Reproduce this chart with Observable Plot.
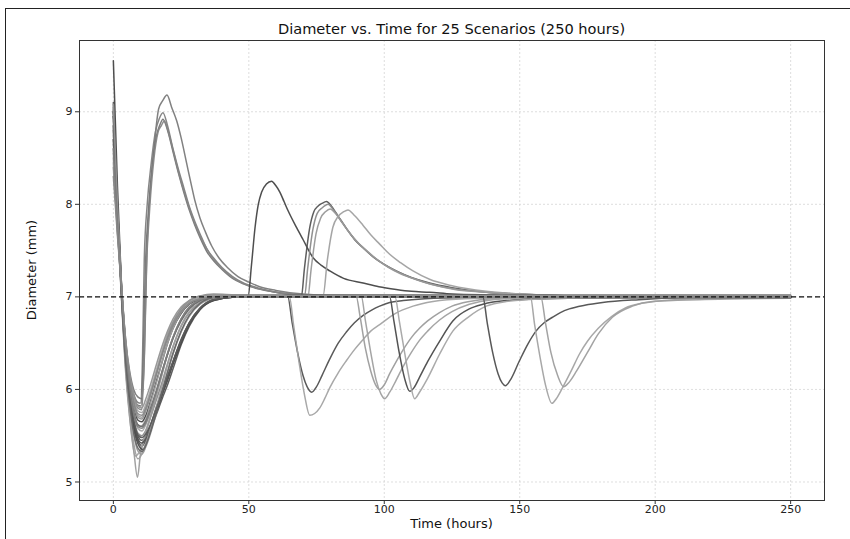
<!DOCTYPE html>
<html><head><meta charset="utf-8">
<script src="https://cdn.jsdelivr.net/npm/d3@7"></script>
<script src="https://cdn.jsdelivr.net/npm/@observablehq/plot@0.6"></script>
<style>
body{margin:0;background:#fff;font-family:"DejaVu Sans",sans-serif;}
#wrap{position:relative;width:850px;height:539px;overflow:hidden;background:#fff;}
#border{position:absolute;left:5px;top:8px;width:900px;height:700px;border-top:1.5px solid #222;border-left:1.5px solid #222;}
#chart{position:absolute;left:0;top:0;}
#title{position:absolute;top:20px;left:79px;width:745px;text-align:center;font-size:14.6px;color:#111;}
#xlab{position:absolute;top:516px;left:79px;width:745px;text-align:center;font-size:13px;color:#111;}
#ylab{position:absolute;left:31px;top:270px;font-size:13px;color:#111;transform:translate(-50%,-50%) rotate(-90deg);white-space:nowrap;}
</style></head><body>
<div id="wrap"><div id="chart"></div><div id="border"></div>
<div id="title">Diameter vs. Time for 25 Scenarios (250 hours)</div>
<div id="xlab">Time (hours)</div>
<div id="ylab">Diameter (mm)</div></div>
<script>
// ---- data: [time (h), diameter (mm)] ----
const S1 = [[0,8.95],[1.5,7.93],[3,7.14],[4.5,6.55],[6,6.2],[7.5,6.0],[9,5.92],[10.5,5.9],[11.5,6.4],[12.4,7.5],[13.5,8.1],[15,8.6],[16.7,9.03],[18.2,9.12],[19.8,9.18],[21.5,9.05],[23.4,8.9],[25,8.72],[27,8.45],[29,8.18],[30,8.05],[32,7.85],[34,7.7],[36.3,7.55],[39,7.42],[42,7.32],[46,7.22],[50,7.16],[54,7.11],[60,7.07],[70,7.03],[85,7.01],[250,7.01]];
const S2 = [[0,9.05],[1.5,8.0],[3,7.12],[4.5,6.5],[6,6.15],[7.5,5.95],[9,5.86],[10,5.85],[10.8,6.4],[11.4,7.4],[12.5,8.0],[14,8.45],[15.5,8.78],[17,8.93],[18.3,8.99],[20,8.85],[22,8.6],[24,8.38],[26,8.18],[28,7.98],[30,7.82],[32,7.68],[34.5,7.52],[37,7.42],[40,7.32],[44,7.22],[48,7.15],[53,7.1],[60,7.05],[70,7.02],[85,7.01],[250,7.0]];
const S3 = [[0,8.85],[1.5,7.9],[3,7.1],[4.5,6.5],[6,6.13],[7.5,5.93],[9,5.83],[10.2,5.82],[11,6.3],[11.8,7.3],[13,7.95],[14.5,8.45],[16,8.75],[17.2,8.86],[18.3,8.92],[20,8.8],[22,8.57],[24,8.34],[26,8.13],[28,7.94],[30,7.78],[32,7.64],[34.5,7.49],[37,7.39],[40,7.3],[44,7.2],[48,7.14],[53,7.09],[60,7.05],[70,7.02],[85,7.0],[250,7.0]];
const S4 = [[0,8.7],[1.5,7.84],[3,7.09],[4.5,6.48],[6,6.1],[7.5,5.9],[9,5.8],[10.5,5.78],[11.3,6.25],[12.2,7.3],[13.4,7.95],[15,8.5],[16.5,8.78],[17.7,8.85],[18.8,8.9],[20.5,8.76],[22.5,8.53],[24.5,8.3],[26.5,8.1],[28.5,7.92],[30.5,7.76],[33,7.6],[35.5,7.47],[38,7.37],[41,7.28],[45,7.19],[50,7.12],[55,7.08],[62,7.04],[72,7.02],[250,7.0]];
const S5 = [[0,9.55],[1.5,8.2],[3,7.12],[4.5,6.5],[6,6.1],[7.5,5.82],[9,5.67],[10.5,5.65],[12,5.72],[14,5.9],[16,6.1],[18,6.3],[20,6.5],[22,6.66],[25,6.82],[28,6.92],[32,6.97],[37,6.99],[45,7.0],[49.7,7.0],[51,7.35],[52.3,7.75],[53.5,8.0],[54.7,8.13],[56.5,8.22],[58.4,8.25],[60,8.2],[61.5,8.13],[63,8.03],[64.5,7.93],[67.6,7.75],[70,7.62],[73.8,7.42],[76.8,7.34],[79.9,7.28],[85,7.2],[92.2,7.15],[98,7.11],[104.4,7.08],[110,7.06],[116.7,7.05],[125,7.03],[140,7.02],[160,7.01],[250,7.01]];
const S6 = [[0,9.0],[1.5,7.95],[3,7.05],[4.5,6.35],[6,5.92],[7.5,5.62],[9,5.45],[10.6,5.39],[12,5.45],[13.6,5.55],[16,5.74],[18,5.9],[20,6.05],[22,6.22],[25,6.48],[28,6.68],[32,6.86],[37,6.96],[45,7.0],[69.4,7.0],[70.5,7.3],[72.5,7.75],[74,7.92],[75.5,7.98],[77,8.01],[78.7,8.03],[80.5,7.98],[83,7.87],[86,7.74],[89,7.62],[92.2,7.53],[96,7.43],[100,7.35],[104.4,7.28],[110,7.21],[116.7,7.15],[125,7.1],[137.6,7.05],[150,7.03],[170,7.01],[250,7.0]];
const S7 = [[0,8.8],[1.5,7.88],[3,7.08],[4.5,6.42],[6,5.98],[7.5,5.7],[9,5.53],[10.5,5.5],[12,5.56],[14,5.72],[16,5.9],[18,6.08],[20,6.28],[22,6.46],[25,6.68],[28,6.83],[32,6.94],[37,6.99],[45,7.01],[70.6,7.01],[71.7,7.3],[73.6,7.72],[75.2,7.9],[77,7.96],[79.3,8.0],[81,7.95],[83.5,7.85],[86.5,7.72],[89.5,7.61],[92.5,7.52],[96.5,7.42],[100.5,7.34],[105,7.27],[110.5,7.2],[117,7.14],[125,7.09],[137.6,7.05],[150,7.03],[170,7.01],[250,7.01]];
const S8 = [[0,8.6],[1.5,7.8],[3,7.02],[4.5,6.3],[6,5.85],[7.5,5.52],[9,5.34],[10.5,5.3],[12,5.38],[14,5.55],[16,5.76],[18,5.97],[20,6.18],[22,6.38],[25,6.62],[28,6.79],[32,6.92],[37,6.98],[45,7.0],[71.8,7.0],[73,7.3],[74.8,7.68],[76.5,7.85],[78.3,7.92],[80,7.95],[82,7.9],[84.5,7.8],[87.5,7.68],[90.5,7.58],[93.5,7.5],[97.5,7.4],[101.5,7.32],[106,7.25],[111.5,7.19],[118,7.13],[126,7.08],[138,7.05],[150,7.03],[170,7.01],[250,7.0]];
const S9 = [[0,8.5],[1.5,7.75],[3,7.1],[4.5,6.48],[6,6.05],[7.5,5.77],[9,5.62],[10,5.6],[12,5.68],[14,5.88],[16,6.08],[18,6.3],[20,6.5],[22,6.66],[25,6.83],[28,6.93],[32,6.98],[37,7.0],[45,7.01],[77.4,7.01],[79,7.4],[81,7.75],[83,7.87],[85,7.92],[86.6,7.94],[89,7.88],[92,7.78],[95,7.67],[98.3,7.57],[102,7.46],[106,7.37],[110.6,7.28],[116.7,7.19],[125,7.12],[137.6,7.06],[150,7.03],[170,7.01],[250,7.01]];
const S10 = [[0,9.1],[1.5,8.0],[3,7.06],[4.5,6.38],[6,5.95],[7.5,5.65],[9,5.5],[10.5,5.45],[12,5.5],[14,5.64],[16,5.82],[18,5.98],[20,6.14],[22,6.3],[25,6.54],[28,6.72],[32,6.88],[37,6.97],[45,7.0],[64.4,7.0],[66,6.72],[68,6.4],[70,6.15],[71.5,6.03],[73.2,5.97],[75,6.03],[77,6.15],[79.9,6.33],[83,6.5],[86,6.62],[89,6.72],[92.2,6.8],[95.5,6.86],[98.3,6.9],[102,6.94],[107,6.96],[115,6.98],[130,6.99],[250,7.0]];
const S11 = [[0,8.75],[1.5,7.85],[3,7.0],[4.5,6.25],[6,5.72],[8,5.28],[9.5,5.32],[11,5.45],[12.5,5.6],[14,5.74],[16,5.95],[18,6.17],[20,6.38],[22,6.56],[25,6.76],[28,6.88],[32,6.96],[37,6.99],[45,7.0],[65,7.0],[66.5,6.7],[68.5,6.3],[70.5,5.95],[72.5,5.72],[74.3,5.74],[76.2,5.8],[78,5.9],[79.9,6.02],[83,6.18],[86,6.31],[89,6.43],[92.2,6.54],[95,6.63],[98.3,6.7],[104,6.82],[110.6,6.9],[118,6.95],[130,6.98],[150,6.99],[250,7.0]];
const S12 = [[0,8.65],[1.5,7.8],[3,6.98],[4.5,6.2],[6,5.7],[7.5,5.35],[8.9,5.05],[10,5.3],[11,5.42],[12.5,5.58],[14,5.74],[16,5.95],[18,6.17],[20,6.38],[22,6.56],[25,6.76],[28,6.89],[32,6.96],[37,6.99],[45,7.0],[89.7,7.0],[91,6.8],[93,6.45],[95,6.2],[96.8,6.05],[98.3,6.0],[100,6.05],[102,6.17],[104.4,6.3],[107,6.43],[110,6.56],[113,6.66],[116,6.74],[120.4,6.83],[125,6.9],[131.4,6.95],[140,6.98],[155,6.99],[250,7.0]];
const S13 = [[0,8.9],[1.5,7.9],[3,7.1],[4.5,6.5],[6,6.1],[7.5,5.85],[9,5.72],[10.5,5.7],[12,5.8],[14,5.98],[16,6.18],[18,6.38],[20,6.56],[22,6.7],[25,6.85],[28,6.94],[32,6.99],[37,7.01],[45,7.01],[91.5,7.01],[93,6.75],[95,6.4],[97,6.1],[98.8,5.95],[100.1,5.9],[102,5.97],[104.4,6.1],[107,6.25],[110,6.4],[113,6.53],[116,6.63],[120.4,6.75],[125,6.84],[131.4,6.92],[140,6.97],[155,6.99],[250,7.0]];
const S14 = [[0,9.0],[1.5,7.95],[3,7.04],[4.5,6.33],[6,5.88],[7.5,5.58],[9,5.42],[11,5.35],[12.5,5.45],[14,5.58],[16,5.77],[18,5.94],[20,6.1],[22,6.27],[25,6.5],[28,6.7],[32,6.87],[37,6.96],[45,7.0],[102,7.0],[103.5,6.75],[105.5,6.4],[107.5,6.12],[109.4,5.98],[111,6.02],[113,6.13],[116,6.3],[120.4,6.52],[125.3,6.74],[131.4,6.87],[136.4,6.92],[145,6.96],[160,6.98],[180,6.99],[250,7.0]];
const S15 = [[0,8.45],[1.5,7.72],[3,7.08],[4.5,6.44],[6,6.0],[7.5,5.73],[9,5.58],[10.5,5.55],[12,5.62],[14,5.79],[16,5.98],[18,6.18],[20,6.38],[22,6.55],[25,6.75],[28,6.88],[32,6.96],[37,6.99],[45,7.0],[104,7.0],[105.5,6.75],[107.5,6.4],[109.5,6.08],[111.2,5.9],[113,5.97],[116,6.12],[120.4,6.38],[125.3,6.63],[131.4,6.79],[137.6,6.9],[145,6.95],[160,6.98],[180,6.99],[250,7.0]];
const S16 = [[0,8.95],[1.5,7.93],[3,7.05],[4.5,6.36],[6,5.93],[7.5,5.63],[9,5.47],[10.5,5.42],[12,5.47],[14,5.6],[16,5.78],[18,5.95],[20,6.12],[22,6.29],[25,6.52],[28,6.71],[32,6.87],[37,6.97],[45,7.0],[136.4,7.0],[138,6.72],[140,6.4],[142,6.17],[143.5,6.07],[144.7,6.04],[146.5,6.1],[149.9,6.31],[153,6.49],[156,6.63],[159,6.72],[162.1,6.78],[165,6.83],[168.3,6.87],[174,6.91],[180.6,6.94],[194,6.97],[210,6.99],[250,7.0]];
const S17 = [[0,8.55],[1.5,7.76],[3,7.12],[4.5,6.53],[6,6.14],[7.5,5.9],[9,5.77],[10.5,5.75],[12,5.84],[14,6.02],[16,6.22],[18,6.42],[20,6.6],[22,6.73],[25,6.87],[28,6.95],[32,7.0],[37,7.02],[45,7.01],[153.9,7.01],[155.5,6.7],[157.5,6.35],[159.5,6.05],[161.9,5.85],[163.5,5.9],[166,6.03],[169,6.2],[172,6.38],[175,6.52],[179,6.66],[184,6.79],[189,6.88],[195,6.93],[203,6.96],[215,6.98],[250,6.99]];
const S18 = [[0,8.8],[1.5,7.87],[3,7.0],[4.5,6.25],[6,5.76],[7.5,5.42],[9,5.25],[10.5,5.3],[12,5.42],[14,5.6],[16,5.82],[18,6.04],[20,6.26],[22,6.46],[25,6.69],[28,6.84],[32,6.94],[37,6.99],[45,7.0],[157.8,7.0],[159.5,6.72],[161.5,6.4],[164,6.15],[166.2,6.03],[168,6.07],[171,6.2],[175,6.4],[179,6.6],[184.2,6.78],[191.6,6.9],[199,6.95],[216,6.97],[250,6.985]];
const S19 = [[0,9.02],[1.5,7.97],[3,7.1],[4.5,6.45],[6,6.02],[7.5,5.75],[9,5.62],[10.5,5.6],[12,5.66],[14,5.82],[16,6.0],[18,6.2],[20,6.38],[22,6.55],[25,6.74],[28,6.87],[32,6.96],[37,7.0],[45,7.02],[60,7.02],[250,7.02]];
const S20 = [[0,8.7],[1.5,7.85],[3,7.06],[4.5,6.4],[6,5.96],[7.5,5.67],[9,5.51],[10.5,5.48],[12,5.52],[14,5.64],[16,5.8],[18,5.96],[20,6.13],[22,6.3],[25,6.53],[28,6.72],[32,6.88],[37,6.97],[45,7.0],[250,6.99]];
const S21 = [[0,8.4],[1.5,7.7],[3,7.1],[4.5,6.5],[6,6.1],[7.5,5.85],[9,5.7],[10.5,5.68],[12,5.77],[14,5.96],[16,6.17],[18,6.38],[20,6.57],[22,6.72],[25,6.87],[28,6.96],[32,7.01],[37,7.03],[45,7.02],[70,7.01],[250,7.01]];
const S22 = [[0,8.85],[1.5,7.9],[3,7.02],[4.5,6.3],[6,5.85],[7.5,5.53],[9,5.37],[10.5,5.33],[12,5.4],[14,5.57],[16,5.78],[18,5.98],[20,6.19],[22,6.39],[25,6.63],[28,6.8],[32,6.93],[37,6.99],[45,7.0],[250,7.0]];
const S23 = [[0,9.08],[1.5,8.0],[3,7.14],[4.5,6.55],[6,6.17],[7.5,5.95],[9,5.82],[10.5,5.8],[12,5.9],[14,6.08],[16,6.28],[18,6.47],[20,6.63],[22,6.76],[25,6.89],[28,6.96],[32,7.01],[37,7.02],[45,7.01],[250,7.01]];
const S24 = [[0,8.6],[1.5,7.8],[3,7.08],[4.5,6.45],[6,6.02],[7.5,5.74],[9,5.6],[10.5,5.58],[12,5.64],[14,5.8],[16,5.99],[18,6.19],[20,6.39],[22,6.56],[25,6.76],[28,6.89],[32,6.97],[37,7.0],[45,7.0],[250,6.99]];
const S25 = [[0,8.3],[1.5,7.66],[3,7.1],[4.5,6.52],[6,6.12],[7.5,5.87],[9,5.74],[10.5,5.72],[12,5.8],[14,5.98],[16,6.18],[18,6.38],[20,6.55],[22,6.69],[25,6.84],[28,6.93],[32,6.98],[37,7.0],[45,7.0],[250,7.0]];

const scenarios = [S1,S2,S3,S4,S5,S6,S7,S8,S9,S10,S11,S12,S13,S14,S15,S16,S17,S18,S19,S20,S21,S22,S23,S24,S25];
const xTicks = [0, 50, 100, 150, 200, 250];
const yTicks = [5, 6, 7, 8, 9];
const targetDiameter = [7];

// ---- styles ----
const shades = ["#7a7a7a","#808080","#757575","#858585","#454545","#555555","#8a8a8a","#999999","#a0a0a0","#505050",
                "#a3a3a3","#9c9c9c","#a0a0a0","#4a4a4a","#a5a5a5","#4f4f4f","#a3a3a3","#9e9e9e","#6a6a6a","#5a5a5a",
                "#8f8f8f","#666666","#939393","#7d7d7d","#888888"];

const chart = Plot.plot({
  width: 850, height: 539,
  marginLeft: 79, marginRight: 26, marginTop: 40, marginBottom: 39,
  style: {fontFamily: "DejaVu Sans", fontSize: "11px", color: "#222", background: "transparent"},
  x: {domain: [-12.5, 262.5]},
  y: {domain: [4.80, 9.77]},
  marks: [
    Plot.gridX(xTicks, {stroke: "#d6d6d6", strokeOpacity: 1, strokeDasharray: "2,2", strokeWidth: 0.8}),
    Plot.gridY(yTicks, {stroke: "#d6d6d6", strokeOpacity: 1, strokeDasharray: "2,2", strokeWidth: 0.8}),
    ...scenarios.map((pts, i) => Plot.line(pts, {x: d => d[0], y: d => d[1], stroke: shades[i], strokeWidth: 1.5, strokeOpacity: 0.95, curve: "monotone-x"})),
    Plot.ruleY(targetDiameter, {stroke: "#111", strokeWidth: 1.2, strokeDasharray: "5,3"}),
    Plot.frame({stroke: "#333", strokeWidth: 1}),
    Plot.axisX(xTicks, {tickSize: 4, tickPadding: 1, fontSize: 11, label: null, stroke: "#333", tickFormat: d => String(d)}),
    Plot.axisY(yTicks, {tickSize: 4, tickPadding: 3, fontSize: 11, label: null, stroke: "#333", tickFormat: d => String(d)})
  ]
});
document.getElementById("chart").appendChild(chart);
</script>
</body></html>
